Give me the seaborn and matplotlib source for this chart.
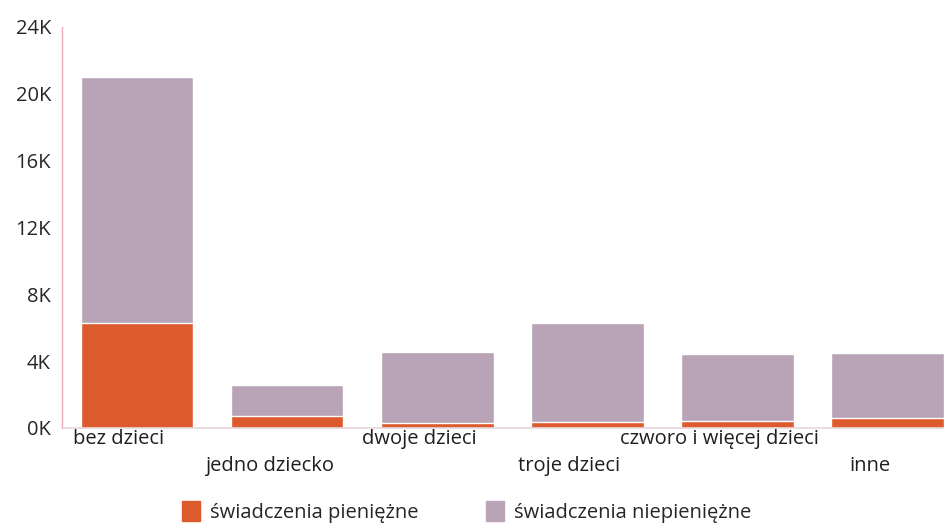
import matplotlib
matplotlib.use("Agg")
import matplotlib.pyplot as plt
import matplotlib.transforms as mtransforms
from matplotlib.patches import Patch
import pandas as pd
import seaborn as sns

# dane (liczba osób)
kategorie = ["bez dzieci", "jedno dziecko", "dwoje dzieci", "troje dzieci",
             "czworo i więcej dzieci", "inne"]
pieniezne = [6300, 700, 300, 350, 400, 600]
niepieniezne = [14700, 1900, 4250, 5950, 4000, 3900]

kolor_pien = "#DD5A2C"
kolor_niepien = "#B8A4B6"

df = pd.DataFrame({"kategoria": kategorie,
                   "pieniezne": pieniezne,
                   "niepieniezne": niepieniezne})
df["razem"] = df["pieniezne"] + df["niepieniezne"]

sns.set_theme(style="white")
plt.rcParams["font.family"] = ["Open Sans", "DejaVu Sans"]

fig = plt.figure(figsize=(9.45, 5.29), dpi=100)
ax = fig.add_axes([0.0656, 0.191, 0.953, 0.758])

sns.barplot(data=df, x="kategoria", y="razem", color=kolor_niepien,
            width=0.75, saturation=1, ax=ax)
sns.barplot(data=df, x="kategoria", y="pieniezne", color=kolor_pien,
            width=0.75, saturation=1, ax=ax)

ax.set_xlim(-0.5, 5.5)
ax.set_ylim(0, 24000)
ax.set_yticks(range(0, 24001, 4000))
ax.set_yticklabels([f"{v // 1000}K" for v in range(0, 24001, 4000)],
                   fontsize=14.5, color="#262626")
ax.set_xlabel("")
ax.set_ylabel("")
ax.tick_params(axis="both", length=0)
ax.tick_params(axis="y", pad=8)

ax.set_xticks(range(len(kategorie)))
ax.set_xticklabels(kategorie, fontsize=14.5, color="#1E1E1E")
shift = mtransforms.ScaledTranslation(-0.18, 0, fig.dpi_scale_trans)
for i, (tick, lab) in enumerate(zip(ax.xaxis.get_major_ticks(), ax.get_xticklabels())):
    tick.set_pad(1 if i % 2 == 0 else 20)
    lab.set_transform(lab.get_transform() + shift)

for side in ["top", "right"]:
    ax.spines[side].set_visible(False)
ax.spines["left"].set_color("#F2A9B6")
ax.spines["left"].set_linewidth(1)
ax.spines["bottom"].set_color("#E6D6DA")
ax.spines["bottom"].set_linewidth(1.2)

handles = [Patch(color=kolor_pien, label="świadczenia pieniężne"),
           Patch(color=kolor_niepien, label="świadczenia niepieniężne")]
fig.legend(handles=handles, loc="center", bbox_to_anchor=(0.494, 0.032),
           ncol=2, frameon=False, fontsize=14.5, handlelength=0.9,
           handleheight=1.1, handletextpad=0.5, columnspacing=3.35)

fig.savefig("out.png", dpi=100)
